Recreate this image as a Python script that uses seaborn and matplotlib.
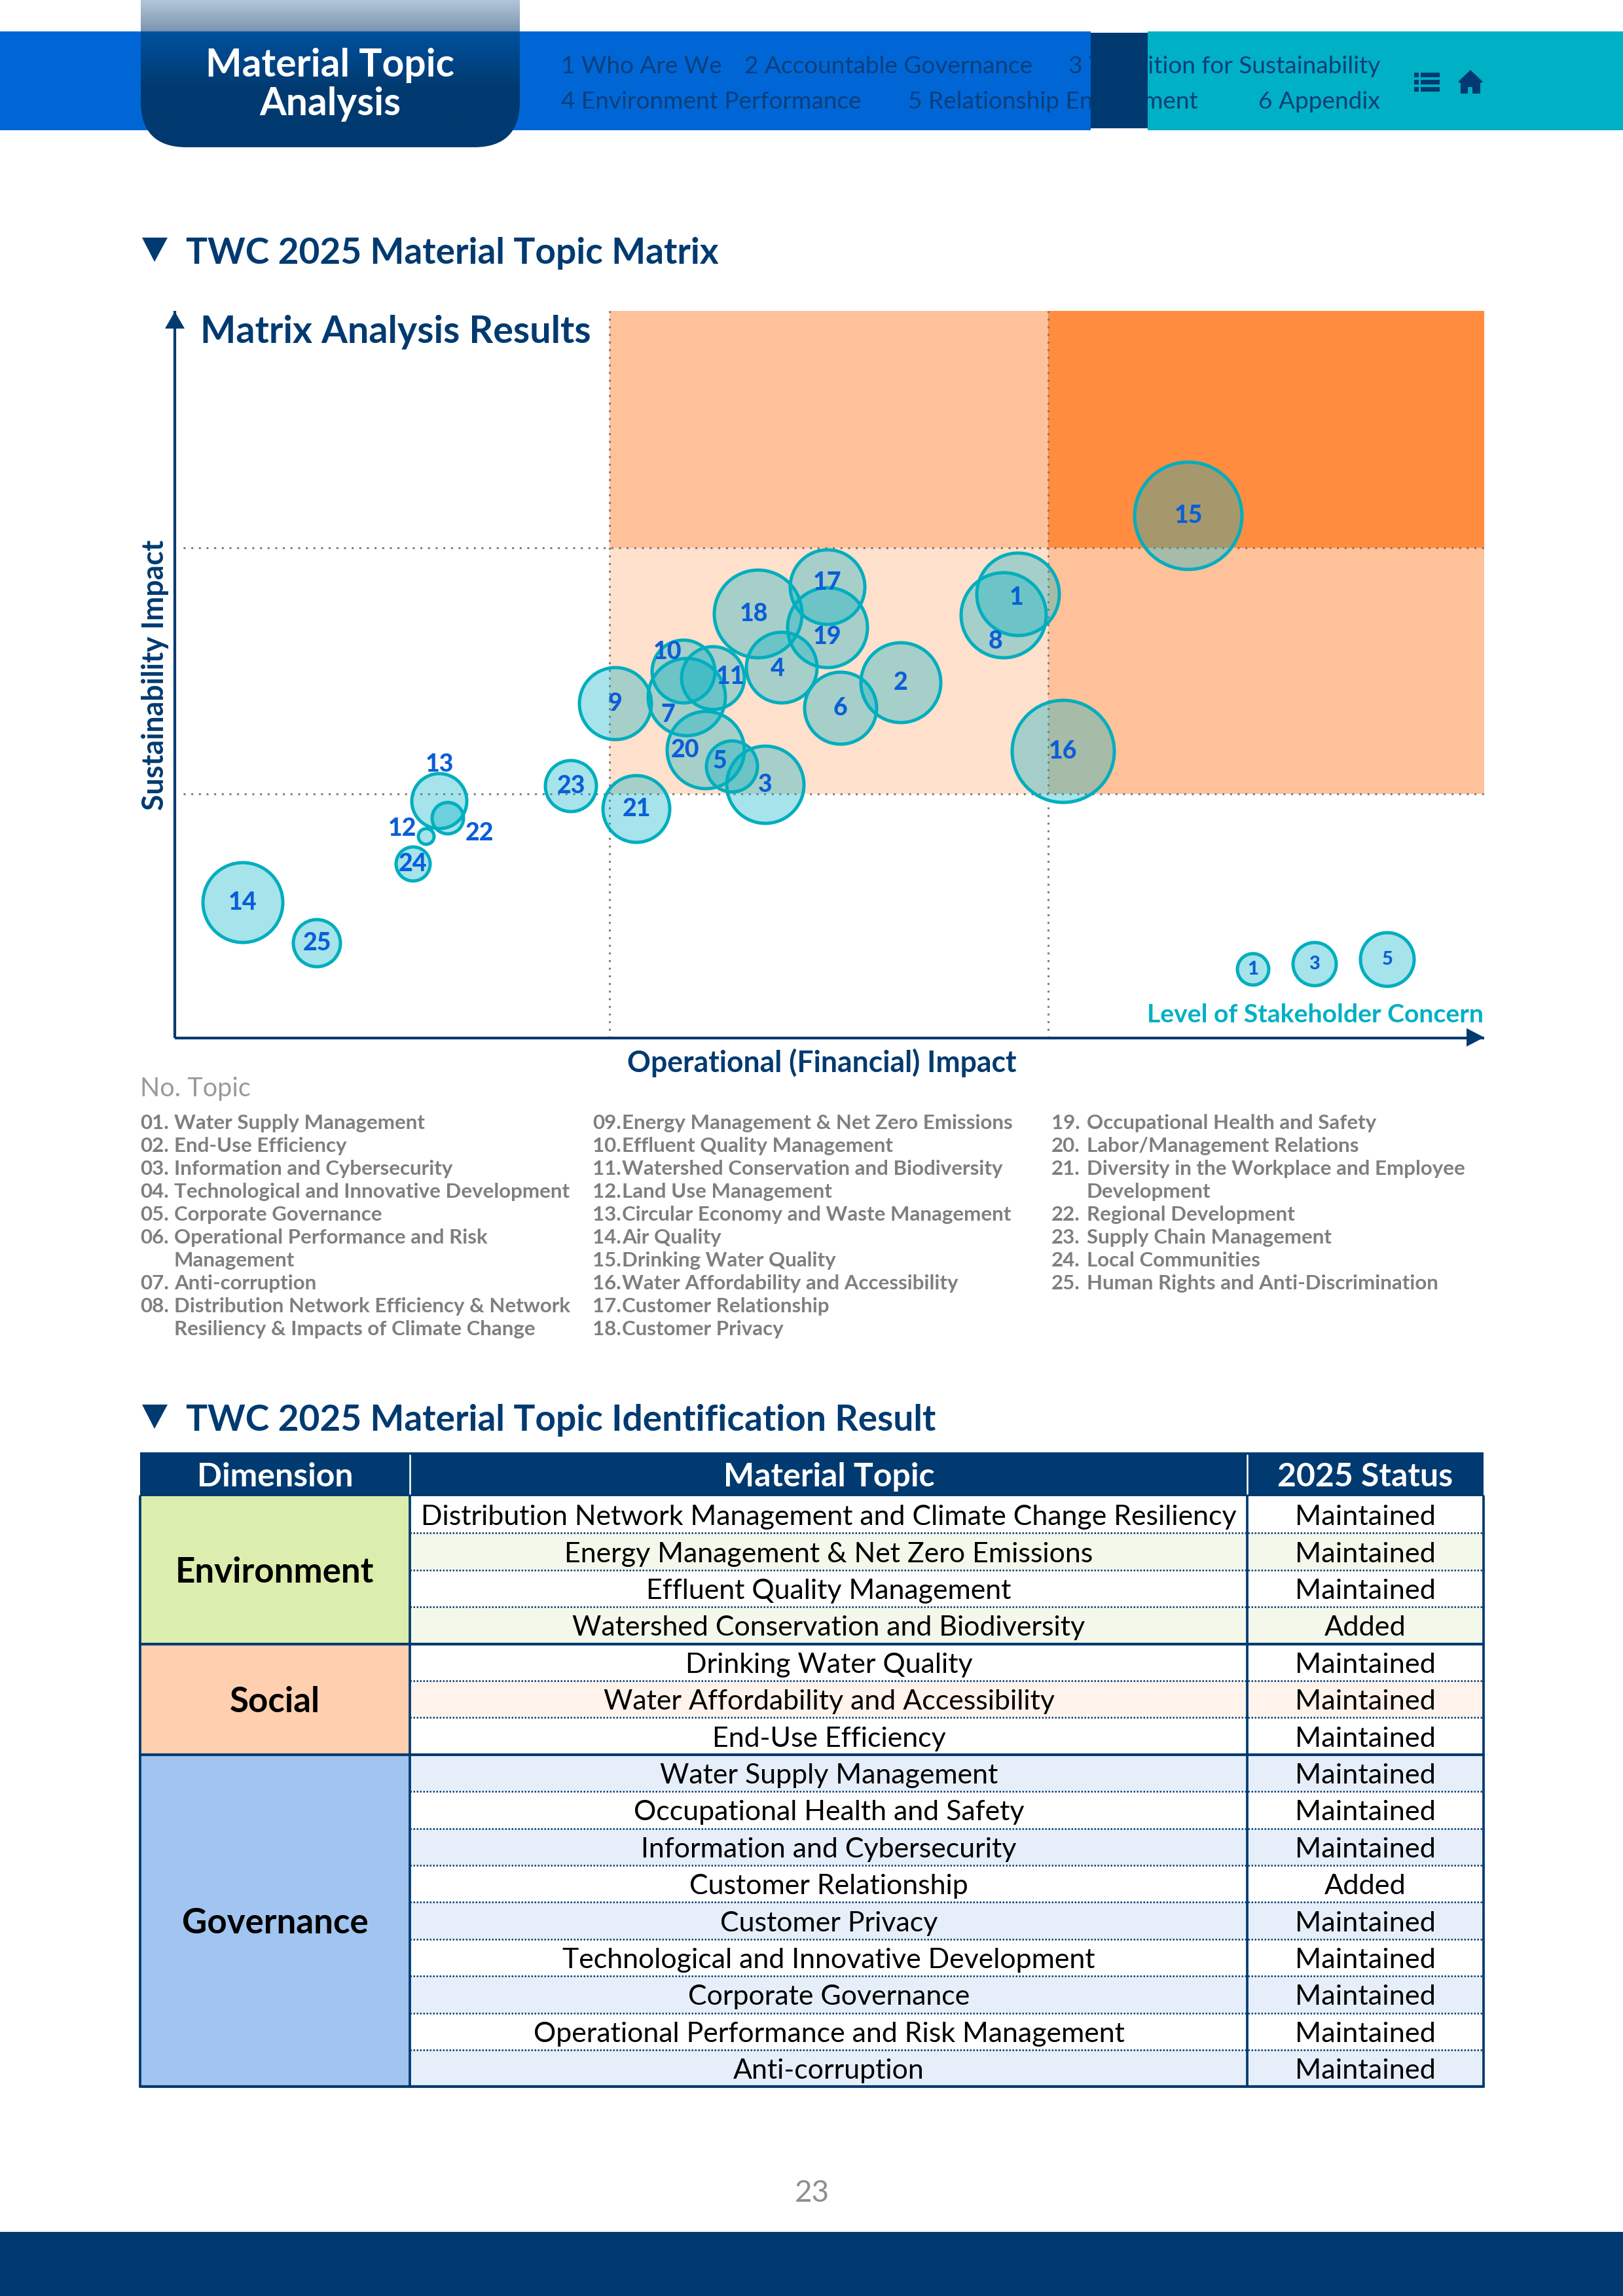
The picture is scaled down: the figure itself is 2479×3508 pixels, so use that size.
import numpy as np
import pandas as pd
import matplotlib
matplotlib.use("Agg")
import matplotlib.pyplot as plt
from matplotlib.patches import Rectangle, Polygon, FancyBboxPatch
from matplotlib.colors import LinearSegmentedColormap
import seaborn as sns

# bubble data, x and y on a 0-100 / 0-55.5 grid, radius in page pixels
bubble_no = [str(i) for i in range(1, 26)]
bubble_x = [64.4, 55.45, 45.1, 46.35, 42.55, 50.85, 39.1, 63.3, 33.65, 38.85, 41.1, 19.2, 20.2,
            5.2, 77.4, 67.85, 49.85, 44.55, 49.85, 40.55, 35.25, 20.85, 30.25, 18.2, 10.85]
bubble_y = [33.9, 27.15, 19.35, 28.3, 20.75, 25.2, 26.05, 32.3, 25.55, 28.0, 27.5, 15.4, 18.1,
            10.35, 39.9, 21.9, 34.45, 32.4, 31.35, 22.0, 17.5, 16.8, 19.25, 13.3, 7.25]
bubble_r = [65, 63, 61, 56, 41, 57, 61, 67, 57, 50, 50, 14, 44, 63, 84, 80, 59, 69, 63, 61, 53, 26, 41, 28, 38]
# numbers that sit off the centre of their bubble
label_shift = {"8": (-0.6, -2.0), "10": (-1.2, 1.5), "11": (1.35, 0.1), "7": (-1.45, -1.35),
               "12": (-1.8, 0.6), "13": (0, 2.8), "22": (2.4, -1.15), "17": (0, 0.35),
               "19": (0, -0.7), "18": (-0.3, 0), "20": (-1.55, 0), "5": (-0.95, 0.4),
               "1": (-0.1, -0.25), "4": (-0.3, -0.1)}

scale_no = ["1", "3", "5"]
scale_x = [82.35, 87.05, 92.6]
scale_y = [5.25, 5.65, 6.0]
scale_r = [26, 35, 43]

x_cuts = [33.2, 66.7]
y_cuts = [18.65, 37.45]

list_col1 = [("01.", "Water Supply Management"), ("02.", "End-Use Efficiency"),
             ("03.", "Information and Cybersecurity"), ("04.", "Technological and Innovative Development"),
             ("05.", "Corporate Governance"), ("06.", "Operational Performance and Risk\nManagement"),
             ("07.", "Anti-corruption"),
             ("08.", "Distribution Network Efficiency & Network\nResiliency & Impacts of Climate Change")]
list_col2 = [("09.", "Energy Management & Net Zero Emissions"), ("10.", "Effluent Quality Management"),
             ("11.", "Watershed Conservation and Biodiversity"), ("12.", "Land Use Management"),
             ("13.", "Circular Economy and Waste Management"), ("14.", "Air Quality"),
             ("15.", "Drinking Water Quality"), ("16.", "Water Affordability and Accessibility"),
             ("17.", "Customer Relationship"), ("18.", "Customer Privacy")]
list_col3 = [("19.", "Occupational Health and Safety"), ("20.", "Labor/Management Relations"),
             ("21.", "Diversity in the Workplace and Employee\nDevelopment"), ("22.", "Regional Development"),
             ("23.", "Supply Chain Management"), ("24.", "Local Communities"),
             ("25.", "Human Rights and Anti-Discrimination")]

table_head = ["Dimension", "Material Topic", "2025 Status"]
dimensions = ["Environment", "Social", "Governance"]
dim_rows = [4, 3, 9]
table_topics = ["Distribution Network Management and Climate Change Resiliency",
                "Energy Management & Net Zero Emissions", "Effluent Quality Management",
                "Watershed Conservation and Biodiversity", "Drinking Water Quality",
                "Water Affordability and Accessibility", "End-Use Efficiency", "Water Supply Management",
                "Occupational Health and Safety", "Information and Cybersecurity", "Customer Relationship",
                "Customer Privacy", "Technological and Innovative Development", "Corporate Governance",
                "Operational Performance and Risk Management", "Anti-corruption"]
table_status = ["Maintained", "Maintained", "Maintained", "Added", "Maintained", "Maintained", "Maintained",
                "Maintained", "Maintained", "Maintained", "Added", "Maintained", "Maintained", "Maintained",
                "Maintained", "Maintained"]

NAVY = "#003A70"
BLUE = "#0066D6"
TEAL = "#00B0C4"
EDGE = "#00AEBE"
NUM = "#0B5ED7"
GREY = "#7F7F7F"
W, H = 2479, 3508

sns.set_theme(style="white")
plt.rcParams["font.family"] = ["Lato", "DejaVu Sans"]

fig = plt.figure(figsize=(W / 300, H / 300), dpi=300, facecolor="white")

# page layer in pixels, y going down
page = fig.add_axes([0, 0, 1, 1], zorder=0)
page.set_xlim(0, W)
page.set_ylim(H, 0)
page.axis("off")

# top banner
page.add_patch(Rectangle((0, 48), 1666, 151, fc=BLUE, ec="none", zorder=1))
page.add_patch(Rectangle((1753, 48), W - 1753, 151, fc=TEAL, ec="none", zorder=1))
for txt, x, y, ha in [("1 Who Are We", 857, 102, "left"), ("2 Accountable Governance", 1137, 102, "left"),
                      ("3 Transition for Sustainability", 2108, 102, "right"),
                      ("4 Environment Performance", 857, 155, "left"),
                      ("5 Relationship Engagement", 1387, 155, "left"), ("6 Appendix", 2108, 155, "right")]:
    page.text(x, y, txt, ha=ha, va="center", fontsize=8.9, color="#0B3F7C", zorder=2)
page.add_patch(Rectangle((1666, 50), 87, 146, fc=NAVY, ec="none", zorder=3))

# tab with fade
tab_cmap = LinearSegmentedColormap.from_list("tab", [(0, "#B4C4D8"), (0.21, "#7B96B0"), (0.215, "#00519F"),
                                                     (0.6, NAVY), (1, NAVY)])
tab = page.imshow(np.linspace(0, 1, 256).reshape(-1, 1), cmap=tab_cmap, extent=(215, 794, 225, 0),
                  aspect="auto", zorder=4)
page.set_xlim(0, W)
page.set_ylim(H, 0)
tab_clip = FancyBboxPatch((215, -120), 579, 345, boxstyle="round,pad=0,rounding_size=70", fc="none", ec="none",
                          transform=page.transData)
page.add_patch(tab_clip)
tab.set_clip_path(tab_clip)
page.text(504, 100, "Material Topic", ha="center", va="center", fontsize=14.1, weight="bold", color="white", zorder=5)
page.text(504, 159, "Analysis", ha="center", va="center", fontsize=14.1, weight="bold", color="white", zorder=5)

# icons
for yy in (114, 125, 136):
    page.add_patch(Rectangle((2160, yy - 3.5), 7, 7, fc=NAVY, ec="none", zorder=2))
    page.add_patch(Rectangle((2170, yy - 3.5), 29, 7, fc=NAVY, ec="none", zorder=2))
page.add_patch(Polygon([(2246, 107), (2265, 125), (2261, 127), (2261, 143), (2249, 143), (2249, 133), (2242, 133),
                        (2242, 143), (2231, 143), (2231, 127), (2227, 125)], fc=NAVY, ec="none", zorder=2))

# section titles
for y, title in [(383, "TWC 2025 Material Topic Matrix"), (2166, "TWC 2025 Material Topic Identification Result")]:
    page.add_patch(Polygon([(217, y - 20), (256, y - 20), (236, y + 17)], fc=NAVY, ec="none"))
    page.text(284, y + 4, title, ha="left", va="center", fontsize=13.2, weight="bold", color=NAVY)

# chart axes
ax = fig.add_axes([267 / W, 1 - 1586 / H, 2000 / W, 1111 / H], zorder=1)
ax.patch.set_alpha(0)
ax.set_xlim(0, 100)
ax.set_ylim(0, 55.55)
ax.add_patch(Rectangle((x_cuts[0], y_cuts[1]), x_cuts[1] - x_cuts[0], 55.55 - y_cuts[1], fc="#FFC19A", ec="none"))
ax.add_patch(Rectangle((x_cuts[1], y_cuts[1]), 100 - x_cuts[1], 55.55 - y_cuts[1], fc="#FF8C3F", ec="none"))
ax.add_patch(Rectangle((x_cuts[0], y_cuts[0]), x_cuts[1] - x_cuts[0], y_cuts[1] - y_cuts[0], fc="#FFE0CC", ec="none"))
ax.add_patch(Rectangle((x_cuts[1], y_cuts[0]), 100 - x_cuts[1], y_cuts[1] - y_cuts[0], fc="#FFC19A", ec="none"))
ax.hlines(y_cuts, 0.65, 100, color="#777777", lw=0.7, linestyles=(0, (1, 3)), zorder=1.5)
ax.vlines(x_cuts, 0, 55.55, color="#777777", lw=0.7, linestyles=(0, (1, 3)), zorder=1.5)

bubbles = pd.DataFrame({"no": bubble_no + scale_no, "x": bubble_x + scale_x, "y": bubble_y + scale_y,
                        "r": bubble_r + scale_r})
bubbles["area"] = (bubbles["r"] - 2) ** 2
# 1 px = 0.24 pt at 300 dpi, so area r**2 maps to s = (2 * 0.24 * r)**2
sns.scatterplot(data=bubbles, x="x", y="y", size="area", size_norm=(0, 10000), sizes=(0, 2304), legend=False,
                facecolor=(0.0, 0.69, 0.77, 0.35), edgecolor=EDGE, linewidth=1.2, ax=ax, zorder=3, clip_on=False)
for row in bubbles.itertuples():
    is_scale = row.Index >= len(bubble_no)
    dx, dy = (0, 0) if is_scale else label_shift.get(row.no, (0, 0))
    ax.text(row.x + dx, row.y + dy, row.no, ha="center", va="center", fontsize=7 if is_scale else 9,
            weight="black", color=NUM, zorder=4)

ax.set_xticks([])
ax.set_yticks([])
for side in ("top", "right"):
    ax.spines[side].set_visible(False)
for side in ("left", "bottom"):
    ax.spines[side].set_color(NAVY)
    ax.spines[side].set_linewidth(1.0)
    ax.spines[side].set_capstyle("butt")
ax.set_xlabel("Operational (Financial) Impact", fontsize=10.7, weight="bold", color=NAVY, va="center")
ax.set_ylabel("Sustainability Impact", fontsize=10.7, weight="bold", color=NAVY, va="center")
ax.xaxis.set_label_coords((1255 - 267) / 2000, -(1624 - 1586) / 1111)
ax.yaxis.set_label_coords(-(267 - 237) / 2000, (1586 - 1031) / 1111)
page.add_patch(Polygon([(2240, 1571), (2267, 1585), (2240, 1599)], fc=NAVY, ec="none"))
page.add_patch(Polygon([(252, 502), (267, 476), (282, 502)], fc=NAVY, ec="none"))
page.text(306, 507, "Matrix Analysis Results", ha="left", va="center", fontsize=13.8, weight="bold", color=NAVY)
page.text(2266, 1550, "Level of Stakeholder Concern", ha="right", va="center", fontsize=9.4, weight="bold",
          color=TEAL, zorder=5)

# topic list
page.text(214, 1664, "No. Topic", ha="left", va="center", fontsize=9.5, color="#9A9A9A")
for items, x_no, x_txt in [(list_col1, 214, 266), (list_col2, 905, 950), (list_col3, 1606, 1660)]:
    line = 0
    for no, name in items:
        page.text(x_no, 1716 + line * 35, no, ha="left", va="center", fontsize=7.5, weight="bold", color=GREY)
        for part in name.split("\n"):
            page.text(x_txt, 1716 + line * 35, part, ha="left", va="center", fontsize=7.5, weight="bold", color=GREY)
            line += 1

# table
t_left, c1, c2, t_right = 214, 626, 1905, 2266
head_top, head_bot, row_h = 2219, 2286, 56.4
page.add_patch(Rectangle((t_left, head_top), t_right - t_left, head_bot - head_top, fc=NAVY, ec="none"))
for x in (c1, c2):
    page.plot([x, x], [head_top + 4, head_bot - 4], color="white", lw=0.6)
for txt, x in zip(table_head, [420, 1266, 2085]):
    page.text(x, (head_top + head_bot) / 2 + 4, txt, ha="center", va="center", fontsize=12, weight="bold", color="white")

dim_fill = ["#DCEEAD", "#FFCFB0", "#A2C4F0"]
stripe_fill = ["#F4F8EA", "#FFF3EC", "#E6EEF9"]
stripe_odd = [1, 1, 0]
row = 0
for d, name in enumerate(dimensions):
    top = head_bot + row * row_h
    n = dim_rows[d]
    page.add_patch(Rectangle((t_left, top), c1 - t_left, n * row_h, fc=dim_fill[d], ec="none"))
    page.text(420, top + n * row_h / 2 + 4, name, ha="center", va="center", fontsize=12.7, weight="bold", color="black")
    for i in range(n):
        y0 = head_bot + (row + i) * row_h
        if i % 2 == stripe_odd[d]:
            page.add_patch(Rectangle((c1, y0), t_right - c1, row_h, fc=stripe_fill[d], ec="none"))
        page.text(1266, y0 + row_h / 2 + 4, table_topics[row + i], ha="center", va="center", fontsize=10.3, color="black")
        page.text(2085, y0 + row_h / 2 + 4, table_status[row + i], ha="center", va="center", fontsize=10.4, color="black")
        if i < n - 1:
            page.plot([c1, t_right], [y0 + row_h, y0 + row_h], color=NAVY, lw=0.6, ls=(0, (1, 1)), zorder=2)
    row += n
    page.plot([t_left, t_right], [head_bot + row * row_h] * 2, color=NAVY, lw=1.0, zorder=3)
table_bot = head_bot + row * row_h
for x in (t_left, c1, c2, t_right):
    page.plot([x, x], [head_bot, table_bot], color=NAVY, lw=0.9, zorder=3)

# footer
page.text(1240, 3351, "23", ha="center", va="center", fontsize=11, color="#8A8F94")
page.add_patch(Rectangle((0, 3410), W, H - 3410, fc=NAVY, ec="none"))

fig.savefig("out.png", dpi=300)
